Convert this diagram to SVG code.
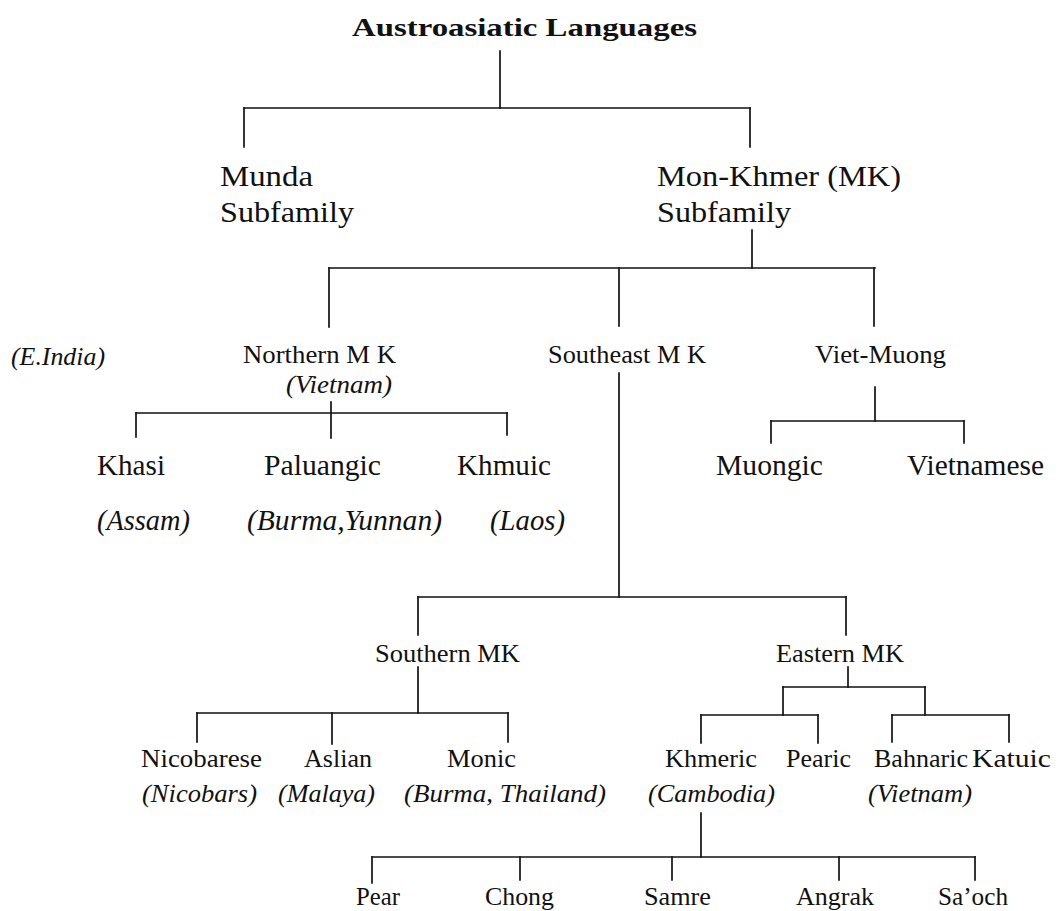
<svg xmlns="http://www.w3.org/2000/svg" width="1062" height="911" viewBox="0 0 1062 911">
<style>
text{font-family:"Liberation Serif","Times New Roman",Tinos,serif;fill:#111}
.t{font-size:25px;font-weight:bold}
.l1{font-size:30px}
.l2{font-size:25px}
.l3{font-size:29px}
.i{font-style:italic}
.c line{stroke:#111;stroke-width:1.7;stroke-linecap:square}
</style>
<rect width="1062" height="911" fill="#fff"/>
<g class="c" id="connectors">
<line x1="500" y1="51" x2="500" y2="108"/>
<line x1="244" y1="108" x2="750" y2="108"/>
<line x1="244" y1="108" x2="244" y2="147"/>
<line x1="750" y1="108" x2="750" y2="147"/>
<line x1="752" y1="230" x2="752" y2="268"/>
<line x1="329" y1="268" x2="875" y2="268"/>
<line x1="329" y1="268" x2="329" y2="327"/>
<line x1="619" y1="268" x2="619" y2="326"/>
<line x1="874" y1="268" x2="874" y2="326"/>
<line x1="331" y1="402" x2="331" y2="438"/>
<line x1="136" y1="413" x2="507" y2="413"/>
<line x1="136" y1="413" x2="136" y2="437"/>
<line x1="507" y1="413" x2="507" y2="435"/>
<line x1="875" y1="387" x2="875" y2="421"/>
<line x1="771" y1="421" x2="964" y2="421"/>
<line x1="771" y1="421" x2="771" y2="443"/>
<line x1="964" y1="421" x2="964" y2="443"/>
<line x1="619" y1="373" x2="619" y2="597"/>
<line x1="418" y1="597" x2="846" y2="597"/>
<line x1="418" y1="597" x2="418" y2="635"/>
<line x1="846" y1="597" x2="846" y2="635"/>
<line x1="418" y1="667" x2="418" y2="713"/>
<line x1="197" y1="713" x2="508" y2="713"/>
<line x1="197" y1="713" x2="197" y2="742"/>
<line x1="332" y1="713" x2="332" y2="744"/>
<line x1="508" y1="713" x2="508" y2="742"/>
<line x1="848" y1="667" x2="848" y2="687"/>
<line x1="783" y1="687" x2="925" y2="687"/>
<line x1="783" y1="687" x2="783" y2="715"/>
<line x1="925" y1="687" x2="925" y2="715"/>
<line x1="701" y1="715" x2="818" y2="715"/>
<line x1="701" y1="715" x2="701" y2="743"/>
<line x1="818" y1="715" x2="818" y2="743"/>
<line x1="892" y1="715" x2="1009" y2="715"/>
<line x1="892" y1="715" x2="892" y2="742"/>
<line x1="1009" y1="715" x2="1009" y2="742"/>
<line x1="701" y1="813" x2="701" y2="857"/>
<line x1="372" y1="857" x2="975" y2="857"/>
<line x1="372" y1="857" x2="372" y2="883"/>
<line x1="520" y1="857" x2="520" y2="880"/>
<line x1="672" y1="857" x2="672" y2="880"/>
<line x1="839" y1="857" x2="839" y2="880"/>
<line x1="975" y1="857" x2="975" y2="880"/>
</g>
<g id="austroasiatic"><text class="t" x="352" y="36" textLength="345" lengthAdjust="spacingAndGlyphs">Austroasiatic  Languages</text></g>
<g id="munda"><text class="l1" x="220" y="186" textLength="93" lengthAdjust="spacingAndGlyphs">Munda</text><text class="l1" x="220" y="222" textLength="134" lengthAdjust="spacingAndGlyphs">Subfamily</text></g>
<g id="mon-khmer"><text class="l1" x="657" y="186" textLength="244" lengthAdjust="spacingAndGlyphs">Mon-Khmer (MK)</text><text class="l1" x="657" y="222" textLength="134" lengthAdjust="spacingAndGlyphs">Subfamily</text></g>
<g id="e-india"><text class="l2 i" x="11" y="365" textLength="94" lengthAdjust="spacingAndGlyphs">(E.India)</text></g>
<g id="northern-mk"><text class="l2" x="243" y="363" textLength="153" lengthAdjust="spacingAndGlyphs">Northern M K</text><text class="l2 i" x="286" y="393" textLength="106" lengthAdjust="spacingAndGlyphs">(Vietnam)</text></g>
<g id="southeast-mk"><text class="l2" x="548" y="363" textLength="158" lengthAdjust="spacingAndGlyphs">Southeast M K</text></g>
<g id="viet-muong"><text class="l2" x="815" y="363" textLength="131" lengthAdjust="spacingAndGlyphs">Viet-Muong</text></g>
<g id="khasi"><text class="l3" x="97" y="475" textLength="68" lengthAdjust="spacingAndGlyphs">Khasi</text><text class="l3 i" x="97" y="530" textLength="93" lengthAdjust="spacingAndGlyphs">(Assam)</text></g>
<g id="paluangic"><text class="l3" x="264" y="475" textLength="117" lengthAdjust="spacingAndGlyphs">Paluangic</text><text class="l3 i" x="247" y="530" textLength="195" lengthAdjust="spacingAndGlyphs">(Burma,Yunnan)</text></g>
<g id="khmuic"><text class="l3" x="457" y="475" textLength="94" lengthAdjust="spacingAndGlyphs">Khmuic</text><text class="l3 i" x="490" y="530" textLength="75" lengthAdjust="spacingAndGlyphs">(Laos)</text></g>
<g id="muongic"><text class="l3" x="716" y="475" textLength="107" lengthAdjust="spacingAndGlyphs">Muongic</text></g>
<g id="vietnamese"><text class="l3" x="907" y="475" textLength="137" lengthAdjust="spacingAndGlyphs">Vietnamese</text></g>
<g id="southern-mk"><text class="l2" x="375" y="662" textLength="145" lengthAdjust="spacingAndGlyphs">Southern MK</text></g>
<g id="eastern-mk"><text class="l2" x="776" y="662" textLength="128" lengthAdjust="spacingAndGlyphs">Eastern MK</text></g>
<g id="nicobarese"><text class="l2" x="141" y="767" textLength="121" lengthAdjust="spacingAndGlyphs">Nicobarese</text><text class="l2 i" x="142" y="802" textLength="115" lengthAdjust="spacingAndGlyphs">(Nicobars)</text></g>
<g id="aslian"><text class="l2" x="304" y="767" textLength="68" lengthAdjust="spacingAndGlyphs">Aslian</text><text class="l2 i" x="278" y="802" textLength="97" lengthAdjust="spacingAndGlyphs">(Malaya)</text></g>
<g id="monic"><text class="l2" x="447" y="767" textLength="69" lengthAdjust="spacingAndGlyphs">Monic</text><text class="l2 i" x="404" y="802" textLength="202" lengthAdjust="spacingAndGlyphs">(Burma, Thailand)</text></g>
<g id="khmeric"><text class="l2" x="665" y="767" textLength="92" lengthAdjust="spacingAndGlyphs">Khmeric</text><text class="l2 i" x="648" y="802" textLength="127" lengthAdjust="spacingAndGlyphs">(Cambodia)</text></g>
<g id="pearic"><text class="l2" x="786" y="767" textLength="65" lengthAdjust="spacingAndGlyphs">Pearic</text></g>
<g id="bahnaric"><text class="l2" x="874" y="767" textLength="94" lengthAdjust="spacingAndGlyphs">Bahnaric</text><text class="l2 i" x="868" y="802" textLength="104" lengthAdjust="spacingAndGlyphs">(Vietnam)</text></g>
<g id="katuic"><text class="l2" x="972" y="767" textLength="79" lengthAdjust="spacingAndGlyphs">Katuic</text></g>
<g id="pear"><text class="l2" x="356" y="905" textLength="44" lengthAdjust="spacingAndGlyphs">Pear</text></g>
<g id="chong"><text class="l2" x="485" y="905" textLength="69" lengthAdjust="spacingAndGlyphs">Chong</text></g>
<g id="samre"><text class="l2" x="644" y="905" textLength="67" lengthAdjust="spacingAndGlyphs">Samre</text></g>
<g id="angrak"><text class="l2" x="796" y="905" textLength="78" lengthAdjust="spacingAndGlyphs">Angrak</text></g>
<g id="saoch"><text class="l2" x="938" y="905" textLength="70" lengthAdjust="spacingAndGlyphs">Sa’och</text></g>
</svg>
